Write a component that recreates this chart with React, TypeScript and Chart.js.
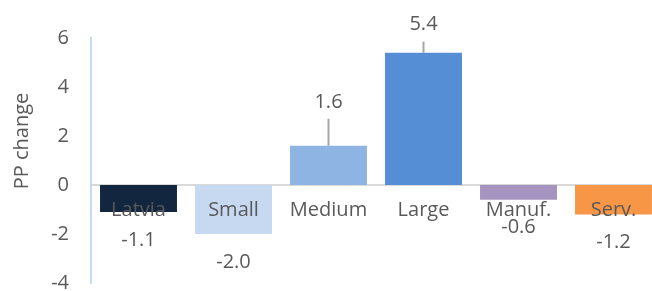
import React, { useEffect, useRef } from "react";
import { Chart, registerables } from "chart.js";

Chart.register(...registerables);

const categories = ["Latvia", "Small", "Medium", "Large", "Manuf.", "Serv."];
const values = [-1.1, -2.0, 1.6, 5.4, -0.6, -1.2];
const barColors = ["#12263f", "#c6d9f1", "#8eb4e3", "#558ed5", "#a694c0", "#f79646"];
const yTicks = [-4, -2, 0, 2, 4, 6];
const axisTitle = "PP change";

const FONT = "'Open Sans', 'Noto Sans', sans-serif";
const TEXT = "#595959";

const labelPlugin = {
  id: "barLabels",
  afterDatasetsDraw(chart: any) {
    const ctx = chart.ctx;
    const meta = chart.getDatasetMeta(0);
    const extra = [0, 0, 16, 0, 0, 0];
    ctx.save();
    ctx.font = `20px ${FONT}`;
    ctx.fillStyle = TEXT;
    ctx.textAlign = "center";
    ctx.textBaseline = "middle";
    meta.data.forEach((bar: any, i: number) => {
      const v = values[i];
      const off = 28 + extra[i];
      const ly = v >= 0 ? bar.y - off : bar.y + off;
      if (v >= 0) {
        ctx.strokeStyle = "#a6a6a6";
        ctx.lineWidth = 2;
        ctx.beginPath();
        ctx.moveTo(bar.x, ly + 17);
        ctx.lineTo(bar.x, bar.y);
        ctx.stroke();
      }
      ctx.fillText(v.toFixed(1), bar.x, ly);
    });
    ctx.translate(22, 141);
    ctx.rotate(-Math.PI / 2);
    ctx.fillText(axisTitle, 0, 0);
    ctx.restore();
  },
};

export default function App() {
  const ref = useRef<HTMLCanvasElement>(null);
  useEffect(() => {
    const chart = new Chart(ref.current!, {
      type: "bar",
      data: {
        labels: categories,
        datasets: [
          {
            data: values,
            backgroundColor: barColors,
            barPercentage: 0.81,
            categoryPercentage: 1,
          },
        ],
      },
      options: {
        animation: false,
        responsive: true,
        maintainAspectRatio: false,
        layout: { padding: { top: 38, bottom: 8, left: 0, right: 0 } },
        plugins: { legend: { display: false }, tooltip: { enabled: false } },
        scales: {
          x: {
            position: { y: 0 } as any,
            afterFit: (s: any) => {
              s.height = 0;
              s.paddingLeft = 0;
              s.paddingRight = 0;
            },
            grid: { display: false, drawTicks: false },
            border: { display: true, color: "#d9d9d9", width: 2 },
            ticks: {
              z: 1,
              color: TEXT,
              font: { family: FONT, size: 20 },
              padding: 13,
              maxRotation: 0,
              autoSkip: false,
            },
          } as any,
          y: {
            min: -4,
            max: 6,
            afterBuildTicks: (s: any) => {
              s.ticks = yTicks.map((v) => ({ value: v }));
            },
            afterFit: (s: any) => {
              s.width = 91;
              s.paddingTop = 0;
              s.paddingBottom = 0;
            },
            grid: { display: false, drawTicks: false },
            border: { display: true, color: "#c6d9f1", width: 2 },
            ticks: { color: TEXT, font: { family: FONT, size: 20 }, padding: 22 },
          },
        },
      },
      plugins: [labelPlugin],
    });
    return () => chart.destroy();
  }, []);
  return (
    <div style={{ position: "fixed", left: 0, top: 0, width: 661, height: 291, background: "#fff" }}>
      <canvas ref={ref} />
    </div>
  );
}
